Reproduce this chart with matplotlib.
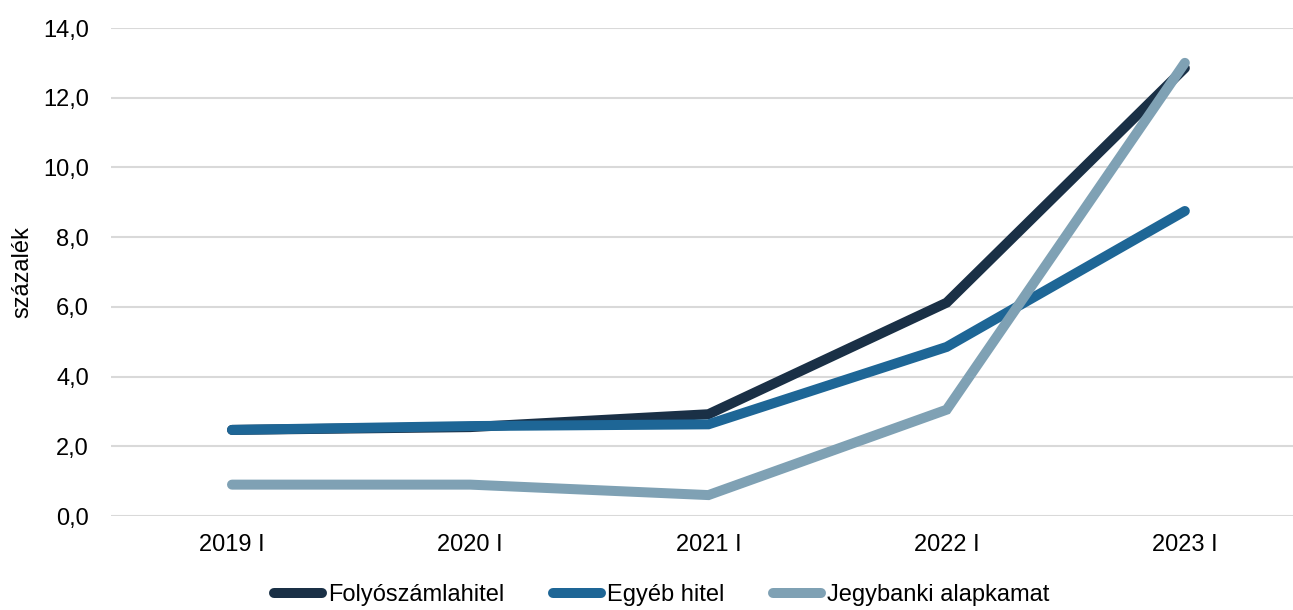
import numpy as np
from matplotlib import pyplot as plt
from matplotlib.ticker import FuncFormatter, MultipleLocator

plt.rcParams['font.family'] = ['Liberation Sans', 'DejaVu Sans']

kategoriak = ["2019 I", "2020 I", "2021 I", "2022 I", "2023 I"]
folyoszamla = [2.47, 2.55, 2.92, 6.12, 12.85]
egyeb_hitel = [2.47, 2.58, 2.63, 4.85, 8.75]
jegybanki = [0.90, 0.90, 0.60, 3.05, 13.0]

sorozatok = [
    ("Folyószámlahitel", folyoszamla, "#1a3046"),
    ("Egyéb hitel", egyeb_hitel, "#1e6696"),
    ("Jegybanki alapkamat", jegybanki, "#7fa1b4"),
]

fig = plt.figure(figsize=(12.93, 6.10), dpi=100)
ax = fig.add_axes([111/1293, 1 - 516/610, (1293 - 111)/1293, (516 - 28)/610])

x = np.arange(len(kategoriak))
for nev, ertekek, szin in sorozatok:
    ax.plot(x, ertekek, color=szin, lw=7.2, label=nev,
            solid_capstyle='round', solid_joinstyle='miter')

ax.set_xlim(-0.508, 4.454)
ax.set_ylim(0, 14)
ax.yaxis.set_major_locator(MultipleLocator(2))
ax.yaxis.set_major_formatter(FuncFormatter(lambda v, _: f"{v:.1f}".replace(".", ",")))
ax.set_xticks(x)
ax.set_xticklabels(kategoriak)
ax.tick_params(length=0, labelsize=17, pad=13)
ax.tick_params(axis='y', pad=16)
ax.grid(axis='y', color='#d9d9d9', lw=1.5)
ax.set_axisbelow(True)
for s in ax.spines.values():
    s.set_visible(False)

fig.text(22/1293, 1 - 272/610, "százalék", rotation=90, fontsize=17,
         ha='center', va='center')

fig.legend(loc='center', bbox_to_anchor=(0.5 + 15/1293, 1 - 595/610), ncol=3, frameon=False,
           fontsize=17, handlelength=2.05, handletextpad=0.25, columnspacing=2.05)

fig.savefig("out.png", dpi=100)
